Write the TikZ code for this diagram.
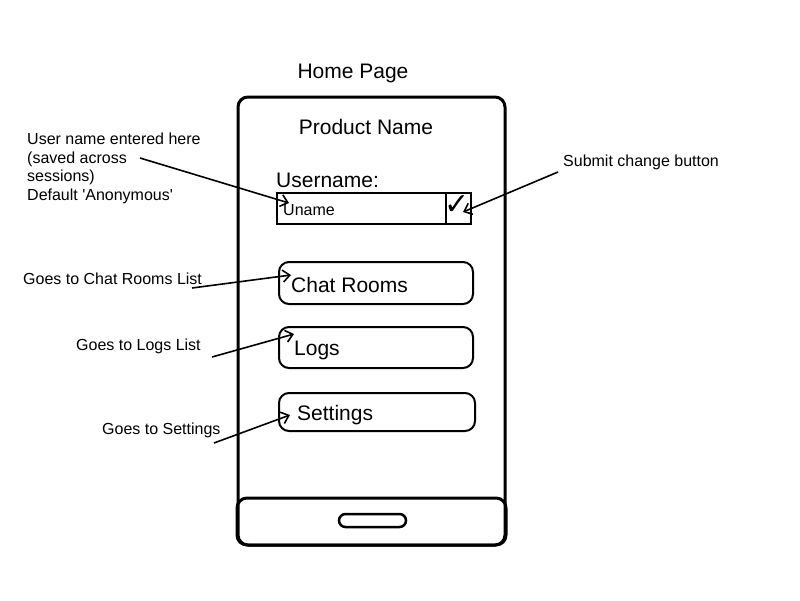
\documentclass[tikz,border=0pt]{standalone}
\usepackage{fontspec}
\setmainfont{Liberation Sans}
\newfontfamily\symfont{DejaVu Sans}
\usetikzlibrary{arrows.meta}
\begin{document}
\begin{tikzpicture}[x=1pt,y=-1pt,
  big/.style={font=\fontsize{21}{24}\selectfont, inner sep=0pt},
  small/.style={font=\fontsize{16}{18.5}\selectfont, inner sep=0pt},
  frame/.style={draw, line width=3pt, rounded corners=10pt, inner sep=0pt},
  btn/.style={draw, line width=2pt, rounded corners=10pt, inner sep=0pt},
  field/.style={draw, line width=2pt, inner sep=0pt},
  callout/.style={line width=1.6pt, -{Straight Barb[length=7pt,width=12pt,line width=1.6pt]}}
]
\useasboundingbox (0,0) rectangle (800,600);
% phone
\node[frame, minimum width=267pt, minimum height=448pt] (phone) at (371.5,321) {};
\node[frame, minimum width=269pt, minimum height=47pt] (bar) at (371.5,521.5) {};
\node[draw, line width=2.5pt, rounded corners=6.5pt, inner sep=0pt, minimum width=67pt, minimum height=13pt] (homebtn) at (372.5,520.5) {};
% titles
\node[big, anchor=base] (title) at (353,78.5) {Home Page};
\node[big, anchor=base] (product) at (366,134) {Product Name};
\node[big, anchor=base west] (userlbl) at (276,187) {Username:};
% username field
\node[field, minimum width=169pt, minimum height=31pt] (unamebox) at (361.5,208.5) {};
\node[field, minimum width=25pt, minimum height=31pt] (checkbox) at (458.5,208.5) {};
\node[small, anchor=base west] (uname) at (283,215) {Uname};
\node[inner sep=0pt, font=\symfont\fontsize{30}{32}\selectfont] (check) at (457.5,205.5) {✓};
% buttons
\node[btn, minimum width=194pt, minimum height=42pt] (chatbox) at (376,283) {};
\node[big, anchor=base west] (chat) at (291,292) {Chat Rooms};
\node[btn, minimum width=194pt, minimum height=41pt] (logsbox) at (376,347.5) {};
\node[big, anchor=base west] (logs) at (294,355) {Logs};
\node[btn, minimum width=196pt, minimum height=38pt] (setbox) at (377,412) {};
\node[big, anchor=base west] (settings) at (297,420) {Settings};
% annotations
\node[small, anchor=base west, align=left] (noteuser) at (27,200) {User name entered here\\(saved across\\sessions)\\Default \textquotesingle Anonymous\textquotesingle};
\node[small, anchor=base west] (notesubmit) at (563,166.5) {Submit change button};
\node[small, anchor=base west] (notechat) at (23,284) {Goes to Chat Rooms List};
\node[small, anchor=base west] (notelogs) at (76,350) {Goes to Logs List};
\node[small, anchor=base west] (noteset) at (102,434) {Goes to Settings};
% connector ends
\coordinate (s1) at (140,158);
\coordinate (t1) at (289,203);
\coordinate (s2) at (558,172);
\coordinate (t2) at (463,212);
\coordinate (s3) at (192,288);
\coordinate (t3) at (291,275);
\coordinate (s4) at (212,357);
\coordinate (t4) at (294,334);
\coordinate (s5) at (214,443);
\coordinate (t5) at (290,415);
\draw[callout] (s1) -- (t1);
\draw[callout] (s2) -- (t2);
\draw[callout] (s3) -- (t3);
\draw[callout] (s4) -- (t4);
\draw[callout] (s5) -- (t5);
\end{tikzpicture}
\end{document}
